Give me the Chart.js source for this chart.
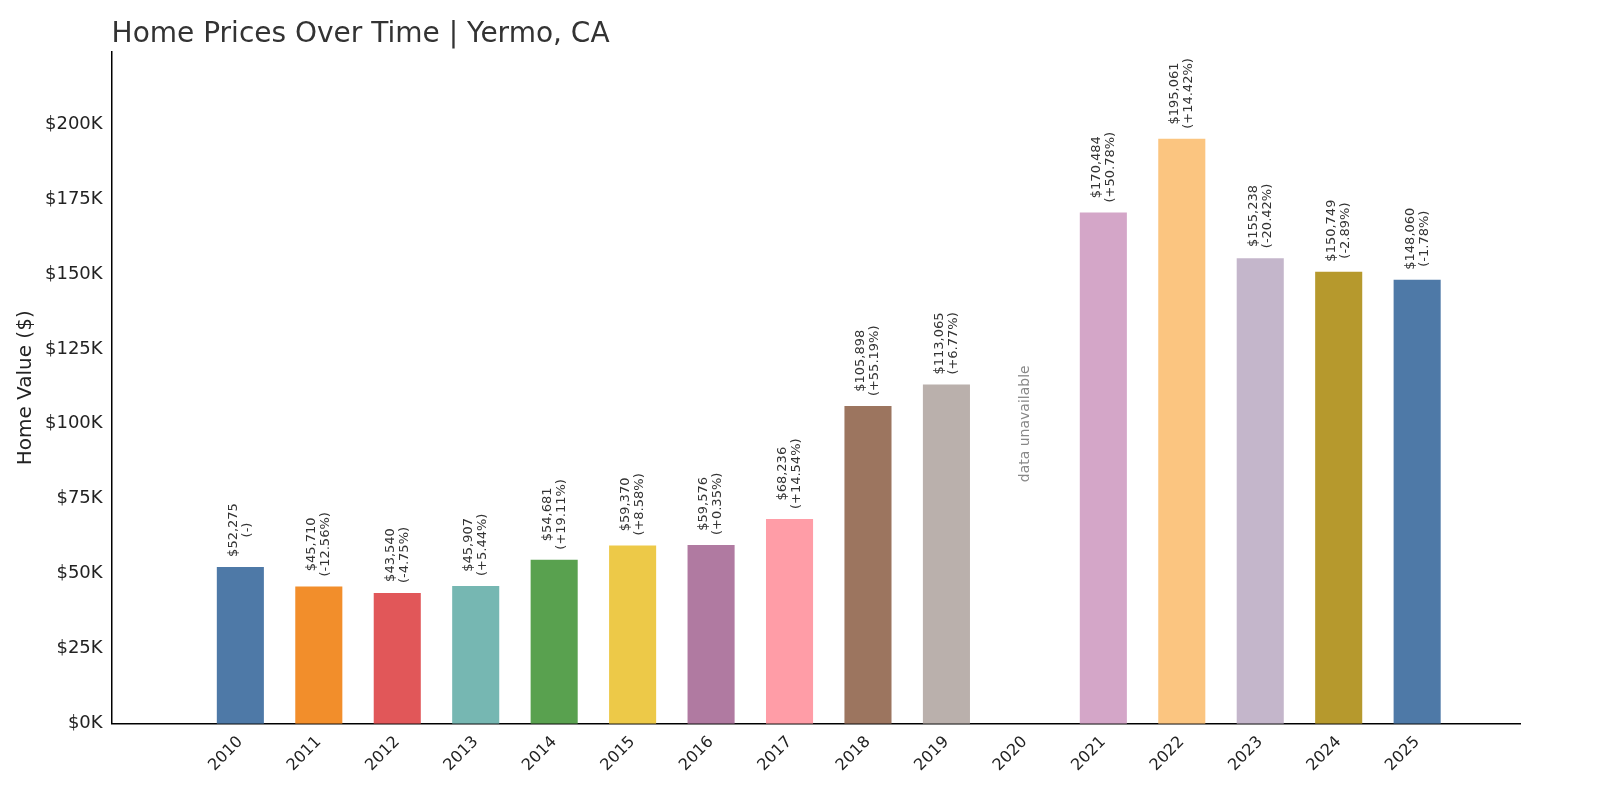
<!DOCTYPE html>
<html>
<head>
<meta charset="utf-8">
<script src="https://cdn.jsdelivr.net/npm/chart.js@4"></script>
<style>
  html, body { margin: 0; padding: 0; background: #fff; }
  #wrap { width: 1600px; height: 800px; }
</style>
</head>
<body>
<div id="wrap"><canvas id="chart"></canvas></div>
<script>
const years = ["2010","2011","2012","2013","2014","2015","2016","2017","2018","2019","2020","2021","2022","2023","2024","2025"];
const values = [52275, 45710, 43540, 45907, 54681, 59370, 59576, 68236, 105898, 113065, null, 170484, 195061, 155238, 150749, 148060];
const changes = ["(-)", "(-12.56%)", "(-4.75%)", "(+5.44%)", "(+19.11%)", "(+8.58%)", "(+0.35%)", "(+14.54%)", "(+55.19%)", "(+6.77%)", "", "(+50.78%)", "(+14.42%)", "(-20.42%)", "(-2.89%)", "(-1.78%)"];
const yTicks = [0, 25000, 50000, 75000, 100000, 125000, 150000, 175000, 200000];
const colors = ["#4e79a7","#f28e2b","#e15759","#76b7b2","#59a14f","#edc948","#b07aa1","#ff9da7","#9c755f","#bab0ac","#4e79a7","#d4a6c8","#fbc580","#c4b6cb","#b6992d","#4e79a7"];
const FONT = "'DejaVu Sans', sans-serif";

// value labels above bars, "data unavailable" for gaps, and the title
const labelPlugin = {
  id: "labels",
  afterDatasetsDraw(chart) {
    const ctx = chart.ctx;
    const yScale = chart.scales.y;
    const xScale = chart.scales.x;
    ctx.save();
    values.forEach((v, i) => {
      const x = xScale.getPixelForValue(i);
      if (v === null) {
        ctx.save();
        ctx.translate(x, yScale.getPixelForValue(100000));
        ctx.rotate(-Math.PI / 2);
        ctx.font = "14px " + FONT;
        ctx.fillStyle = "#888";
        ctx.textAlign = "center";
        ctx.textBaseline = "middle";
        ctx.fillText("data unavailable", 0, 0);
        ctx.restore();
        return;
      }
      ctx.save();
      ctx.translate(x, yScale.getPixelForValue(v) - 10);
      ctx.rotate(-Math.PI / 2);
      ctx.font = "13px " + FONT;
      ctx.fillStyle = "#333";
      ctx.textAlign = "center";
      ctx.textBaseline = "middle";
      const s = "$" + v.toLocaleString("en-US");
      const widest = Math.max(ctx.measureText(s).width, ctx.measureText(changes[i]).width);
      ctx.fillText(s, widest / 2, -7);
      ctx.fillText(changes[i], widest / 2, 7);
      ctx.restore();
    });
    ctx.font = "28px " + FONT;
    ctx.fillStyle = "#333";
    ctx.textAlign = "left";
    ctx.textBaseline = "alphabetic";
    ctx.fillText("Home Prices Over Time | Yermo, CA", chart.chartArea.left, 42);
    ctx.restore();
  }
};

new Chart(document.getElementById("chart"), {
  type: "bar",
  data: {
    datasets: [{
      data: values.map((v, i) => ({ x: i, y: v })),
      backgroundColor: colors,
      barPercentage: 0.6,
      categoryPercentage: 1.0,
    }],
  },
  options: {
    responsive: true,
    maintainAspectRatio: false,
    animation: false,
    layout: { padding: { left: 10, top: 52, right: 80, bottom: 22 } },
    plugins: { legend: { display: false }, tooltip: { enabled: false } },
    scales: {
      x: {
        type: "linear",
        min: -1.08,
        max: 15.75,
        afterBuildTicks(axis) {
          axis.ticks = years.map((y, i) => ({ value: i }));
        },
        grid: { display: false, drawTicks: true, tickLength: 6 },
        border: { color: "#000", width: 1.5 },
        ticks: {
          autoSkip: false,
          color: "#222",
          font: { family: FONT, size: 16 },
          maxRotation: 45,
          minRotation: 45,
          callback: (v) => years[v],
        },
      },
      y: {
        min: 0,
        max: 224000,
        afterBuildTicks(axis) {
          axis.ticks = yTicks.map((v) => ({ value: v }));
        },
        grid: { display: false, drawTicks: true, tickLength: 6 },
        border: { color: "#000", width: 1.5 },
        ticks: {
          autoSkip: false,
          color: "#222",
          font: { family: FONT, size: 18 },
          callback: (v) => "$" + v / 1000 + "K",
        },
        title: { display: true, text: "Home Value ($)", color: "#222", font: { family: FONT, size: 20 } },
      },
    },
  },
  plugins: [labelPlugin],
});
</script>
</body>
</html>
